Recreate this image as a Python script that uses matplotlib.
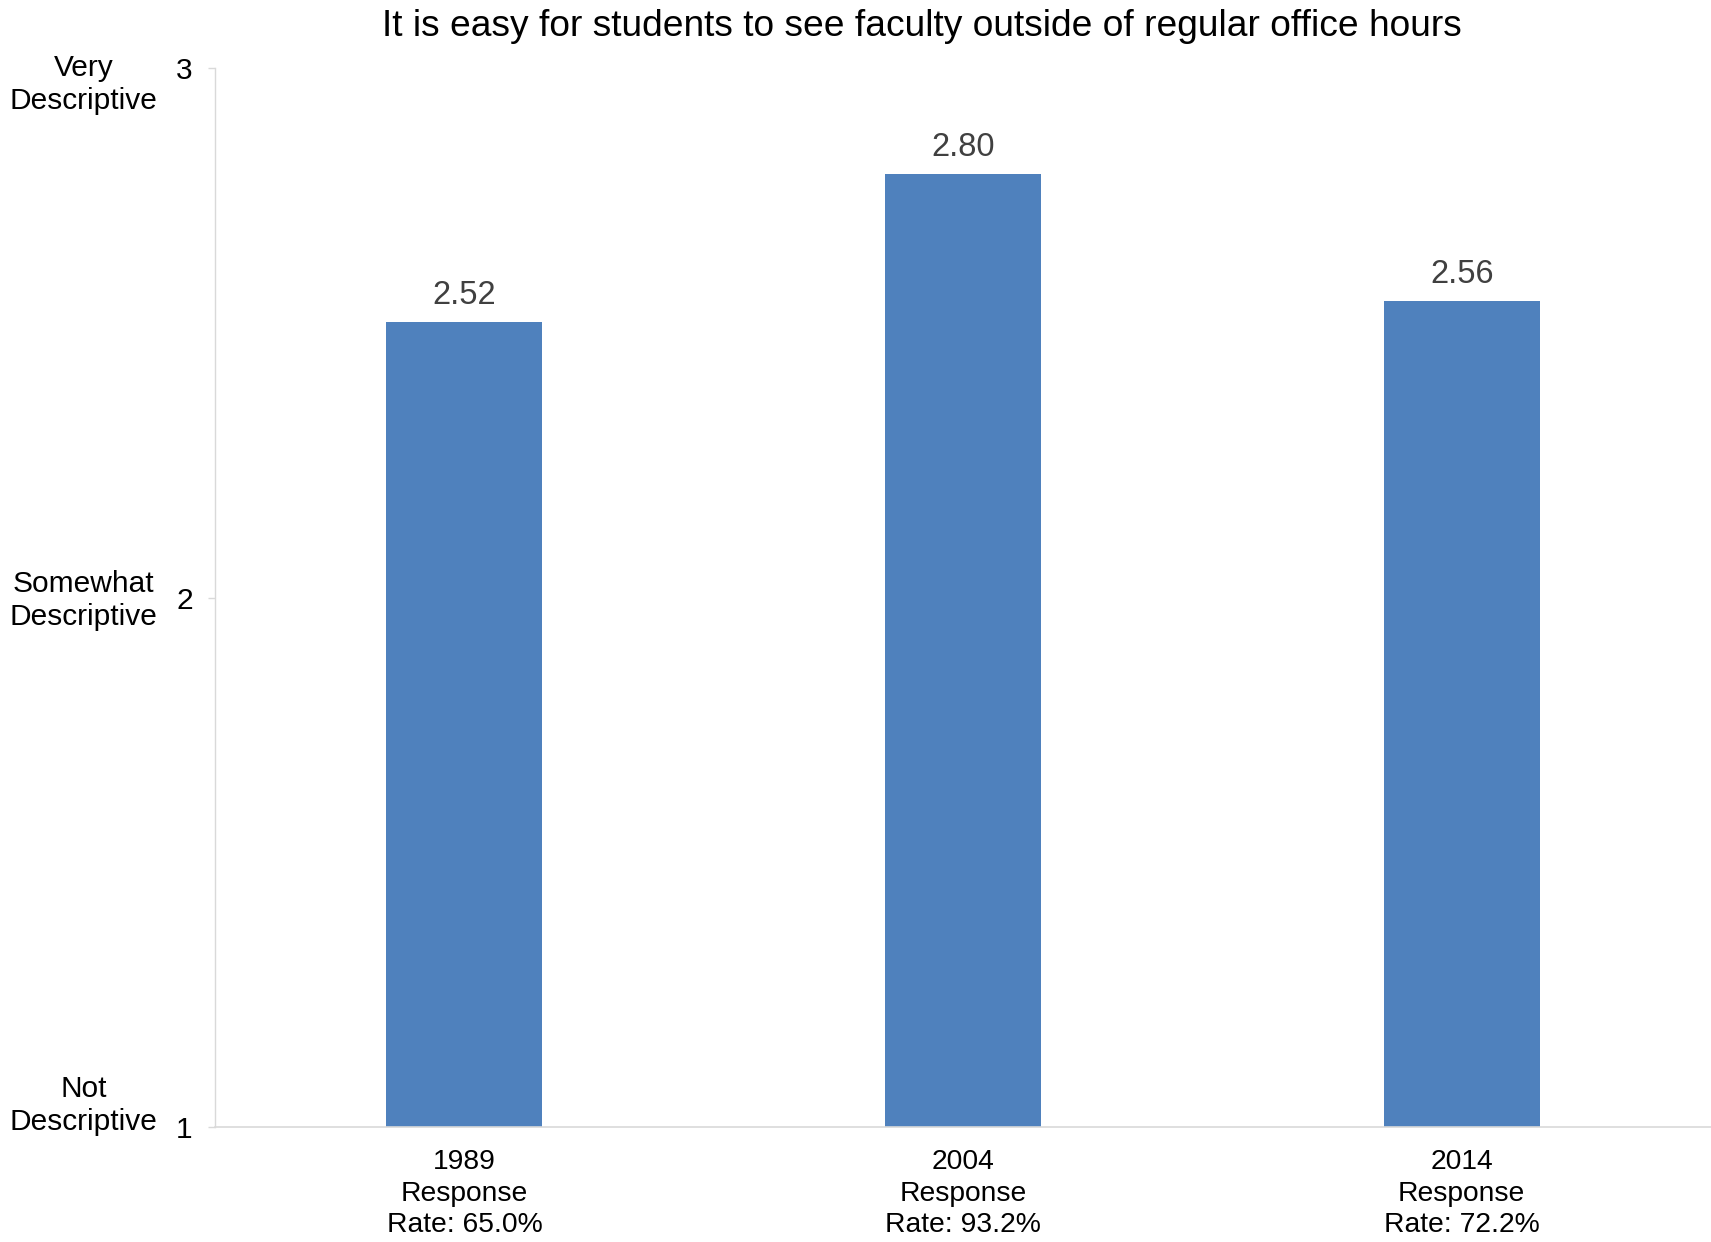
import matplotlib
matplotlib.use("Agg")
import matplotlib.pyplot as plt
import matplotlib.transforms as mtransforms

plt.rcParams['font.family'] = ['Liberation Sans', 'DejaVu Sans']

title = "It is easy for students to see faculty outside of regular office hours"
categories = ["1989\nResponse\nRate: 65.0%", "2004\nResponse\nRate: 93.2%", "2014\nResponse\nRate: 72.2%"]
values = [2.52, 2.80, 2.56]
y_ticks = [1, 2, 3]
scale_labels = ["Not\nDescriptive", "Somewhat\nDescriptive", "Very\nDescriptive"]

fig = plt.figure(figsize=(17.11, 12.42), dpi=100)
ax = fig.add_axes([0.1257, 0.0926, 0.8743, 0.8526])

x = list(range(len(categories)))
ax.bar(x, values, width=0.313, color="#4f81bd", zorder=2)
ax.set_xlim(-0.5, len(categories) - 0.5)
ax.set_ylim(1, 3)

for xi, v in zip(x, values):
    ax.annotate(f"{v:.2f}", (xi, v), xytext=(0, 8), textcoords="offset points",
                ha="center", va="bottom", fontsize=23.5, color="#404040")

ax.set_xticks(x)
ax.set_xticklabels(categories, fontsize=20.3, color="black", linespacing=1.27)
ax.tick_params(axis="x", length=0, pad=16)
ax.set_yticks(y_ticks)
ax.set_yticklabels([str(t) for t in y_ticks], fontsize=21.5)
ax.tick_params(axis="y", length=5, width=1, color="#d9d9d9", pad=11, direction="out")

for s in ["top", "right"]:
    ax.spines[s].set_visible(False)
ax.spines["left"].set_color("#d9d9d9")
ax.spines["bottom"].set_color("#d9d9d9")
ax.spines["left"].set_linewidth(1)
ax.spines["bottom"].set_linewidth(1.2)

trans = mtransforms.blended_transform_factory(fig.transFigure, ax.transData)
label_offsets = [0.041, -0.006, -0.031]
for t, lab, off in zip(y_ticks, scale_labels, label_offsets):
    ax.text(0.049, t + off, lab, transform=trans, ha="center", va="center",
            fontsize=21.5, linespacing=1.22, clip_on=False)

fig.text(0.539, 0.979, title, ha="center", va="center", fontsize=26.7)

fig.savefig("out.png", dpi=100)
